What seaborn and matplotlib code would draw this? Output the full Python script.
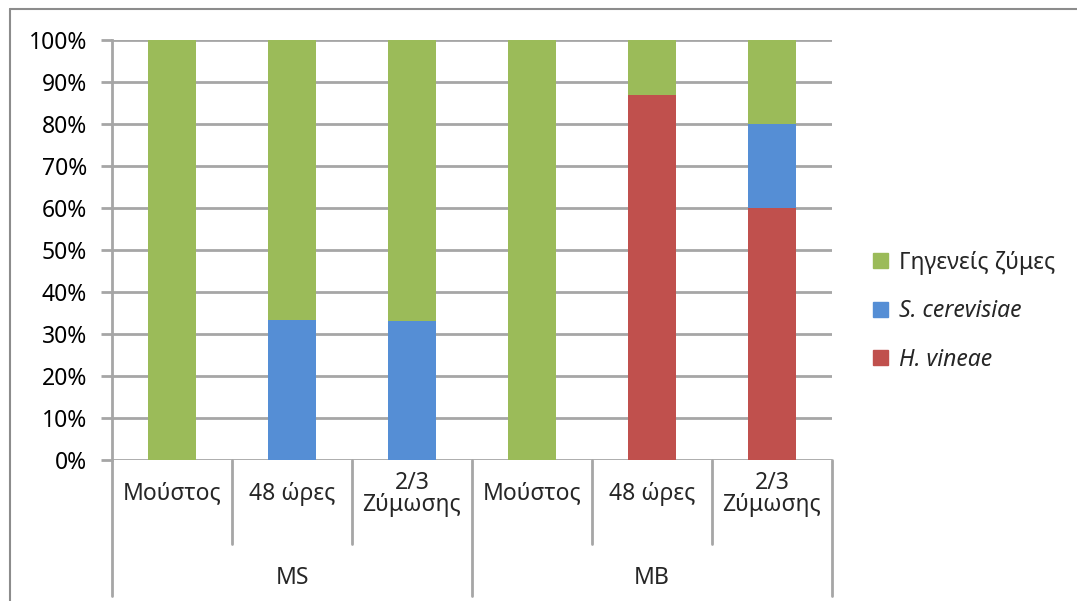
import matplotlib
matplotlib.use("Agg")
import matplotlib.pyplot as plt
import matplotlib.patches as mpatches
from matplotlib.lines import Line2D
import seaborn as sns
import pandas as pd

# Sample groups and sampling stages
groups = ["MS", "MS", "MS", "MB", "MB", "MB"]
stages = ["Μούστος", "48 ώρες", "2/3\nΖύμωσης", "Μούστος", "48 ώρες", "2/3\nΖύμωσης"]

# Share of each yeast population (%)
h_vineae = [0, 0, 0, 0, 87, 60]
s_cerevisiae = [0, 33.3, 33.0, 0, 0, 20]
native = [100, 66.7, 67.0, 100, 13, 20]

series_names = ["Γηγενείς ζύμες", "S. cerevisiae", "H. vineae"]
colors = {"Γηγενείς ζύμες": "#9BBB59", "S. cerevisiae": "#558ED5", "H. vineae": "#C0504D"}
y_ticks = [0, 10, 20, 30, 40, 50, 60, 70, 80, 90, 100]

sns.set_theme(style="white")
plt.rcParams["font.family"] = ["Noto Sans", "DejaVu Sans"]
FS = 16.5

keys = [f"{g}-{i}" for i, g in enumerate(groups)]
df = pd.DataFrame({
    "key": keys,
    "red": h_vineae,
    "blue": [r + b for r, b in zip(h_vineae, s_cerevisiae)],
    "green": [r + b + n for r, b, n in zip(h_vineae, s_cerevisiae, native)],
})

fig = plt.figure(figsize=(10.77, 6.01), dpi=100)
ax = fig.add_axes([0.104, 0.2346, 0.6685, 0.6988])

# Stacked bars: draw cumulative totals from the top layer down
for col, name in [("green", "Γηγενείς ζύμες"), ("blue", "S. cerevisiae"), ("red", "H. vineae")]:
    sns.barplot(data=df, x="key", y=col, order=keys, color=colors[name],
                width=0.4, saturation=1, ax=ax, zorder=3, linewidth=0)

grid_c = "#a6a6a6"
ax.set_ylim(0, 100)
ax.set_xlim(-0.5, len(keys) - 0.5)
ax.set_yticks(y_ticks)
ax.set_yticklabels([f"{v}%" for v in y_ticks], fontsize=FS, color="black")
ax.yaxis.grid(True, color=grid_c, linewidth=2, zorder=0)
ax.xaxis.grid(False)
ax.tick_params(axis="y", which="major", length=8, width=2, color=grid_c, pad=10, left=True)
ax.tick_params(axis="x", length=0, labelbottom=False)
ax.set_xlabel("")
ax.set_ylabel("")
for s in ["top", "right", "bottom"]:
    ax.spines[s].set_visible(False)
ax.spines["left"].set_color(grid_c)
ax.spines["left"].set_linewidth(2)

# Two-level category axis beneath the bars
trans = ax.get_xaxis_transform()
for i, lab in enumerate(stages):
    ax.text(i, -0.08, lab, transform=trans, ha="center", va="center",
            fontsize=FS, linespacing=0.9)
for j, g in enumerate(["MS", "MB"]):
    ax.text(3 * j + 1, -0.281, g, transform=trans, ha="center", va="center", fontsize=FS)
for b in range(len(keys) + 1):
    x = b - 0.5
    y_end = -0.325 if b % 3 == 0 else -0.2
    ax.add_line(Line2D([x, x], [0, y_end], transform=trans, color=grid_c,
                       linewidth=2, clip_on=False))

handles = [mpatches.Patch(color=colors[n], label=n) for n in series_names]
leg = fig.legend(handles=handles, loc="center left", bbox_to_anchor=(0.8, 0.482),
                 frameon=False, fontsize=FS, handlelength=0.65, handleheight=0.65,
                 handletextpad=0.5, labelspacing=1.07, borderpad=0)
for t in leg.get_texts():
    if t.get_text() != "Γηγενείς ζύμες":
        t.set_fontstyle("italic")

# Outer chart frame
frame_c = "#8c8c8c"
fig.add_artist(Line2D([10 / 1077, 1], [1 - 9 / 601, 1 - 9 / 601], transform=fig.transFigure,
                      color=frame_c, linewidth=1.5))
fig.add_artist(Line2D([10 / 1077, 10 / 1077], [0, 1 - 9 / 601], transform=fig.transFigure,
                      color=frame_c, linewidth=1.5))

fig.savefig("out.png", dpi=100)
